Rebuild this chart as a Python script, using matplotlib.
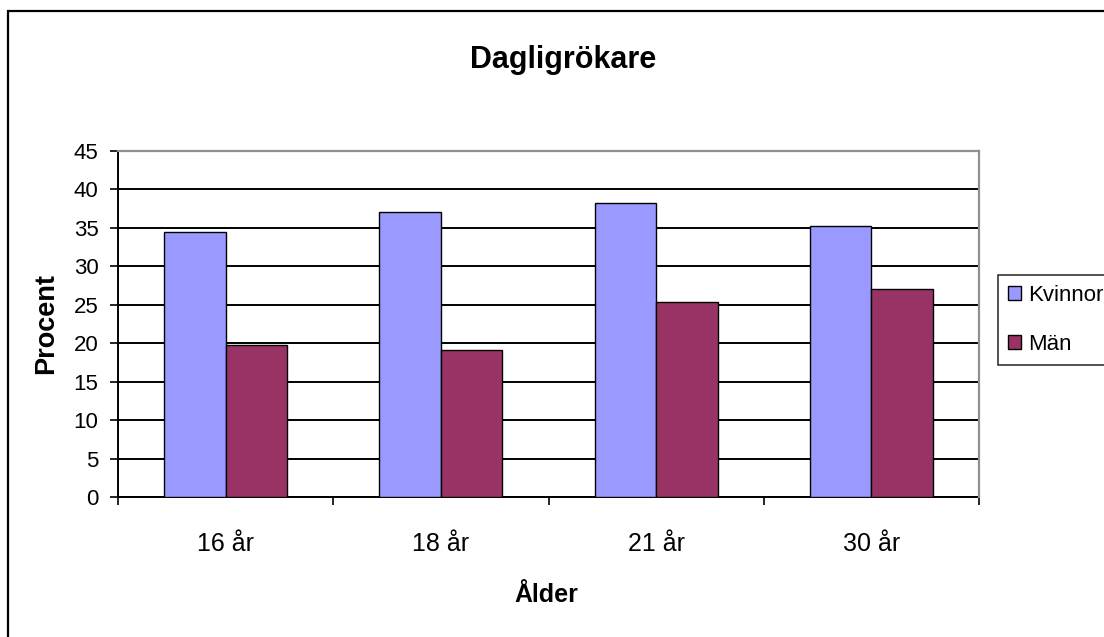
import numpy as np
import matplotlib.pyplot as plt
from matplotlib.patches import Rectangle

categories = ['16 år', '18 år', '21 år', '30 år']
kvinnor = [34.5, 37.1, 38.3, 35.3]
man = [19.8, 19.1, 25.3, 27.1]
y_ticks = [0, 5, 10, 15, 20, 25, 30, 35, 40, 45]

# no narrow font in the sandbox, so plain Liberation Sans with slightly smaller sizes
FONT = ['Liberation Sans', 'DejaVu Sans']


def main():
    plt.rcParams['font.family'] = FONT
    fig = plt.figure(figsize=(11.04, 6.37), dpi=100)
    ax = fig.add_axes([118 / 1104, 1 - 497 / 637, (979 - 118) / 1104, (497 - 151) / 637])

    x = np.arange(len(categories))
    w = 1 / 3.5
    ax.bar(x - w / 2, kvinnor, w, color='#9999FF', edgecolor='black', linewidth=1.0,
           label='Kvinnor', zorder=3)
    ax.bar(x + w / 2, man, w, color='#993366', edgecolor='black', linewidth=1.0,
           label='Män', zorder=3)

    ax.set_xlim(-0.5, len(categories) - 0.5)
    ax.set_ylim(0, 45)
    ax.set_yticks(y_ticks)
    ax.set_yticklabels([str(v) for v in y_ticks], fontsize=16)
    ax.tick_params(axis='y', direction='out', length=6, width=1.2, pad=8, colors='black')

    ax.set_xticks(np.arange(-0.5, len(categories), 1.0))
    ax.set_xticklabels([])
    ax.tick_params(axis='x', which='major', direction='out', length=6, width=1.2)
    ax.set_xticks(x, minor=True)
    ax.set_xticklabels(categories, minor=True, fontsize=18)
    ax.tick_params(axis='x', which='minor', length=0, pad=25)

    ax.set_axisbelow(True)
    ax.yaxis.grid(True, color='black', linewidth=1.4)
    for s in ['left', 'bottom']:
        ax.spines[s].set_color('black')
        ax.spines[s].set_linewidth(1.4)
    for s in ['top', 'right']:
        ax.spines[s].set_color('#909090')
        ax.spines[s].set_linewidth(1.6)
        ax.spines[s].set_zorder(4)

    fig.text(563 / 1104, 1 - 68 / 637, 'Dagligrökare', ha='center', va='baseline',
             fontsize=22, fontweight='bold')
    fig.text(546 / 1104, 1 - 602 / 637, 'Ålder', ha='center', va='baseline',
             fontsize=18, fontweight='bold')
    fig.text(46 / 1104, 1 - 324 / 637, 'Procent', ha='center', va='center',
             rotation=90, fontsize=19.5, fontweight='bold')

    leg = fig.legend(loc='upper left', bbox_to_anchor=(998 / 1104, 1 - 275 / 637),
                     fontsize=16, frameon=True, fancybox=False, shadow=False,
                     handlelength=0.6, handleheight=0.6, handletextpad=0.3,
                     borderpad=0.45, labelspacing=1.25, borderaxespad=0)
    leg.get_frame().set_edgecolor('black')
    leg.get_frame().set_linewidth(1.2)

    fig.patches.append(Rectangle((8 / 1104, -0.2), 1.2, 1.2 - 11 / 637,
                                 transform=fig.transFigure, fill=False,
                                 edgecolor='black', linewidth=1.6))

    fig.savefig('out.png', dpi=100)


if __name__ == "__main__":
    main()
